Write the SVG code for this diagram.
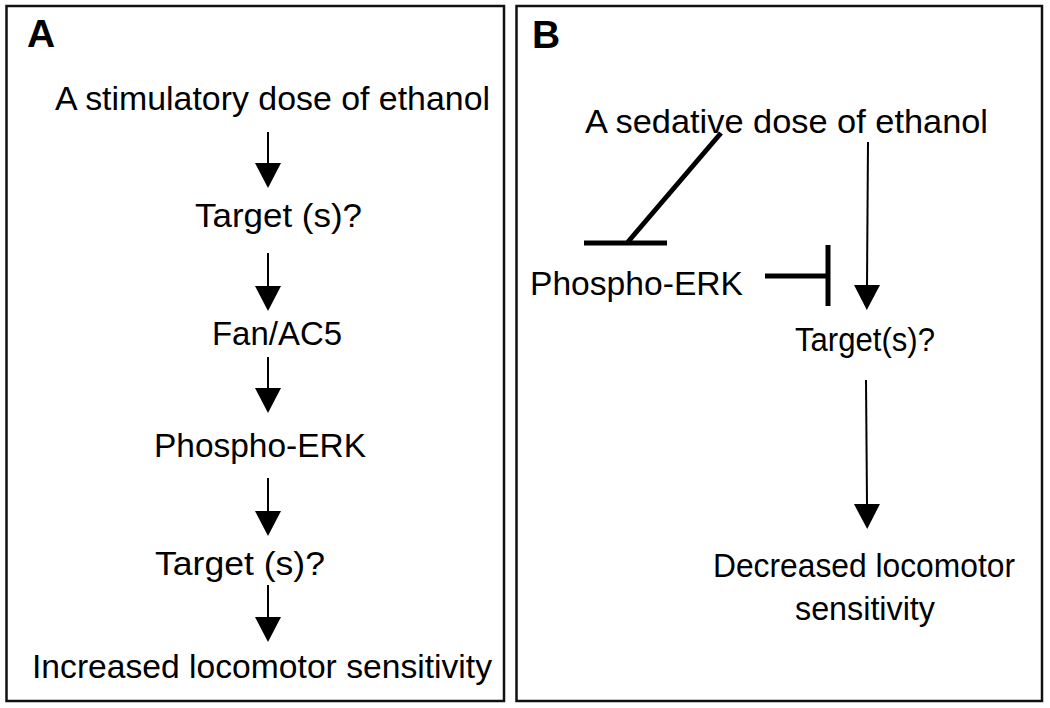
<svg xmlns="http://www.w3.org/2000/svg" width="1050" height="708" viewBox="0 0 1050 708">
<defs>
<style>
.panel{fill:#fff;stroke:#111;stroke-width:2.5}
.lbl{font-family:"Liberation Sans",Arial,Helvetica,sans-serif;font-size:34px;fill:#000}
.title{font-family:"Liberation Sans",Arial,Helvetica,sans-serif;font-size:39px;font-weight:bold;fill:#000}
.arr{stroke:#000;stroke-width:2;fill:none}
.inh{stroke:#000;stroke-width:5;fill:none}
</style>
<marker id="head" viewBox="0 -13 25 26" markerWidth="25" markerHeight="26" refX="0" refY="0" orient="auto" markerUnits="userSpaceOnUse">
<path d="M0,-13 L25,0 L0,13 z" fill="#000"/>
</marker>
</defs>
<rect width="1050" height="708" fill="#fff"/>
<g id="panelA">
<rect class="panel" x="6.5" y="6" width="497.5" height="695"/>
<text class="title" x="27" y="47">A</text>
</g>
<g id="panelB">
<rect class="panel" x="516.5" y="6" width="525.5" height="695"/>
<text class="title" x="532" y="48">B</text>
</g>
<g id="a-stim"><text class="lbl" x="55" y="110" textLength="435" lengthAdjust="spacingAndGlyphs">A stimulatory dose of ethanol</text></g>
<g id="a-target1"><text class="lbl" x="195" y="227" textLength="167" lengthAdjust="spacingAndGlyphs">Target (s)?</text></g>
<g id="a-fan"><text class="lbl" x="212" y="345" textLength="130" lengthAdjust="spacingAndGlyphs">Fan/AC5</text></g>
<g id="a-perk"><text class="lbl" x="154" y="457" textLength="212" lengthAdjust="spacingAndGlyphs">Phospho-ERK</text></g>
<g id="a-target2"><text class="lbl" x="155" y="575" textLength="170" lengthAdjust="spacingAndGlyphs">Target (s)?</text></g>
<g id="a-incr"><text class="lbl" x="32" y="678" textLength="460" lengthAdjust="spacingAndGlyphs">Increased locomotor sensitivity</text></g>
<g id="b-sed"><text class="lbl" x="585" y="133" textLength="403" lengthAdjust="spacingAndGlyphs">A sedative dose of ethanol</text></g>
<g id="b-perk"><text class="lbl" x="530" y="295" textLength="213" lengthAdjust="spacingAndGlyphs">Phospho-ERK</text></g>
<g id="b-target"><text class="lbl" x="795" y="351" textLength="140" lengthAdjust="spacingAndGlyphs">Target(s)?</text></g>
<g id="b-decr">
<text class="lbl" x="713" y="577" textLength="302" lengthAdjust="spacingAndGlyphs">Decreased locomotor</text>
<text class="lbl" x="795" y="620" textLength="140" lengthAdjust="spacingAndGlyphs">sensitivity</text>
</g>
<g id="connectors">
<line class="arr" x1="268" y1="132" x2="268" y2="163" marker-end="url(#head)"/>
<line class="arr" x1="268" y1="253" x2="268" y2="286" marker-end="url(#head)"/>
<line class="arr" x1="268" y1="357" x2="268" y2="388" marker-end="url(#head)"/>
<line class="arr" x1="268" y1="478" x2="268" y2="511" marker-end="url(#head)"/>
<line class="arr" x1="268" y1="585" x2="268" y2="617" marker-end="url(#head)"/>
<line class="arr" x1="868" y1="142" x2="867" y2="285" marker-end="url(#head)"/>
<line class="arr" x1="866" y1="380" x2="867" y2="504" marker-end="url(#head)"/>
<path class="inh" d="M721,133 L627,243 M584,243 L667,243"/>
<path class="inh" d="M765,276 L828,276 M828,245 L828,306"/>
</g>
</svg>
